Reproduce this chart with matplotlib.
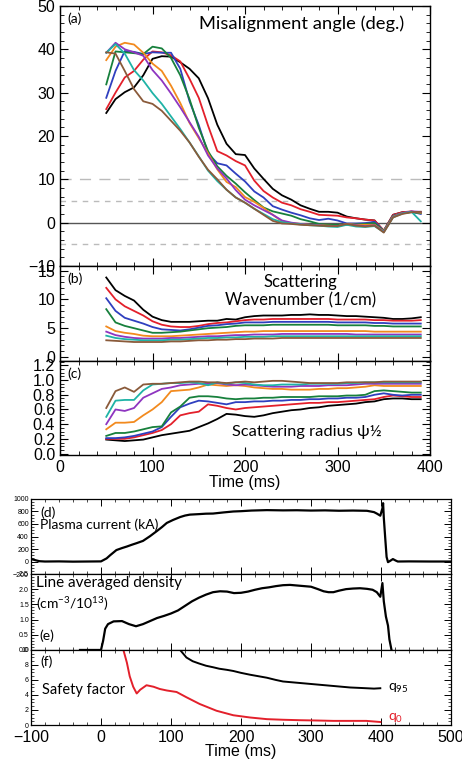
import numpy as np
import matplotlib
matplotlib.use('Agg')
import matplotlib.pyplot as plt
from matplotlib.ticker import MultipleLocator, FormatStrFormatter

plt.rcParams['font.family'] = ['Liberation Sans', 'DejaVu Sans']
plt.rcParams['mathtext.default'] = 'regular'
plt.rcParams['xtick.direction'] = 'in'
plt.rcParams['ytick.direction'] = 'in'
plt.rcParams['xtick.top'] = True
plt.rcParams['ytick.right'] = True

LABEL_FONT = ['Lato', 'DejaVu Sans']

# scattering channels, sampled every 10 ms
t_scat = [50, 60, 70, 80, 90, 100, 110, 120, 130, 140, 150, 160, 170, 180, 190,
          200, 210, 220, 230, 240, 250, 260, 270, 280, 290, 300, 310, 320, 330,
          340, 350, 360, 370, 380, 390]
channel_colors = ['black', '#e3202b', '#2f3fbf', '#17803c',
                  '#f28a1e', '#8e35c0', '#1fb3a6', '#8a5a3a']

# misalignment angle (deg.)
mis_black = [25.3, 28.5, 30.1, 31.2, 34.0, 37.8, 38.4, 38.3, 37.0, 35.5, 33.3, 28.7,
             22.6, 18.2, 15.8, 15.6, 12.5, 10.1, 7.8, 6.3, 5.3, 4.0, 3.2, 2.5, 2.5,
             2.3, 1.4, 1.0, 0.7, 0.5, -2.0, 1.8, 2.4, 2.5, 2.4]
mis_red = [26.2, 30.0, 33.5, 35.0, 37.6, 39.5, 39.3, 38.6, 37.2, 33.2, 28.8, 22.4,
           16.5, 15.5, 14.2, 13.2, 9.7, 7.3, 5.8, 4.6, 4.0, 3.1, 2.5, 1.8, 1.7,
           1.6, 1.2, 1.0, 0.7, 0.5, -1.8, 1.8, 2.4, 2.6, 2.2]
mis_blue = [28.8, 35.0, 39.6, 39.4, 38.9, 39.3, 39.2, 39.2, 35.5, 28.0, 22.5, 16.0,
            13.7, 13.2, 11.3, 9.5, 7.2, 5.8, 3.8, 3.0, 2.3, 1.7, 1.0, 0.6, 0.9,
            0.5, -0.2, -0.2, -0.1, 0.2, -1.9, 1.6, 2.2, 2.5, 2.0]
mis_green = [31.9, 39.5, 39.3, 39.1, 38.9, 40.6, 40.2, 38.0, 34.0, 28.5, 21.9, 16.5,
             13.0, 10.8, 9.0, 7.0, 5.2, 3.5, 2.6, 2.1, 1.6, 0.8, 0.3, -0.3, -0.5,
             -0.5, -0.5, -0.4, -0.3, -0.1, -1.9, 1.5, 2.2, 2.4, 2.2]
mis_orange = [37.5, 40.6, 41.5, 41.1, 39.2, 36.7, 35.0, 31.6, 27.6, 23.0, 19.5, 16.0,
              12.3, 9.4, 8.2, 5.9, 4.8, 3.4, 1.8, 0.3, -0.1, -0.3, -0.5, -0.6, -0.7,
              -0.8, -0.3, -0.5, -0.5, -0.5, -2.0, 1.4, 2.2, 2.5, 2.3]
mis_purple = [39.2, 41.5, 40.0, 39.3, 38.5, 35.2, 32.8, 29.8, 26.6, 23.2, 19.8, 15.5,
              12.5, 10.2, 7.5, 5.3, 4.0, 2.9, 1.8, 0.5, 0.0, -0.3, -0.5, -0.6, -0.8,
              -0.8, -0.4, -0.6, -0.8, -0.6, -2.1, 1.3, 2.2, 2.6, 2.5]
mis_teal = [39.2, 41.2, 39.0, 35.2, 32.8, 29.9, 27.4, 24.5, 21.6, 18.5, 15.3, 12.0,
            9.6, 7.6, 5.8, 4.6, 3.2, 2.0, 0.8, 0.1, -0.2, -0.4, -0.6, -0.7, -0.9,
            -1.0, -0.5, -0.9, -1.0, -0.8, -2.2, 1.2, 2.1, 2.5, 0.3]
mis_brown = [39.3, 39.0, 35.0, 30.8, 28.0, 27.4, 25.8, 23.5, 21.2, 18.5, 15.2, 12.2,
             10.0, 7.6, 5.8, 4.6, 3.2, 1.8, 0.4, -0.2, -0.3, -0.5, -0.6, -0.7, -0.8,
             -0.8, -0.3, -0.7, -0.9, -0.7, -2.3, 1.2, 2.0, 2.4, 2.5]

# scattering wavenumber (1/cm)
k_black = [13.8, 11.6, 10.6, 9.8, 8.2, 7.0, 6.4, 6.1, 6.1, 6.1, 6.2, 6.3, 6.3, 6.6,
           6.5, 6.9, 7.1, 7.2, 7.2, 7.2, 7.3, 7.3, 7.4, 7.3, 7.3, 7.2, 7.1, 7.1,
           7.0, 6.9, 6.8, 6.6, 6.6, 6.7, 6.9]
k_red = [12.0, 10.0, 8.8, 8.0, 7.2, 6.2, 5.6, 5.3, 5.2, 5.2, 5.4, 5.7, 5.9, 6.0,
         6.2, 6.4, 6.5, 6.5, 6.6, 6.6, 6.6, 6.6, 6.6, 6.6, 6.6, 6.5, 6.5, 6.5,
         6.5, 6.4, 6.4, 6.3, 6.3, 6.3, 6.4]
k_blue = [10.2, 8.0, 6.8, 6.3, 5.8, 5.2, 4.8, 4.7, 4.6, 4.8, 5.1, 5.4, 5.5, 5.7,
          5.8, 6.0, 6.0, 6.0, 6.1, 6.1, 6.1, 6.1, 6.1, 6.1, 6.1, 6.0, 6.0, 6.0,
          6.0, 5.9, 5.9, 5.8, 5.8, 5.8, 5.8]
k_green = [8.3, 6.0, 5.4, 5.0, 4.6, 4.2, 4.2, 4.3, 4.4, 4.6, 4.8, 5.0, 5.1, 5.2,
           5.4, 5.5, 5.5, 5.5, 5.6, 5.6, 5.6, 5.6, 5.6, 5.6, 5.6, 5.5, 5.5, 5.5,
           5.5, 5.4, 5.4, 5.3, 5.3, 5.3, 5.3]
k_orange = [5.3, 4.5, 4.2, 4.0, 3.7, 3.6, 3.6, 3.6, 3.7, 3.8, 3.9, 4.0, 4.1, 4.2,
            4.3, 4.4, 4.4, 4.5, 4.5, 4.5, 4.5, 4.5, 4.5, 4.5, 4.5, 4.5, 4.5, 4.5,
            4.5, 4.4, 4.4, 4.4, 4.4, 4.4, 4.4]
k_purple = [4.4, 3.8, 3.5, 3.3, 3.2, 3.2, 3.2, 3.3, 3.3, 3.4, 3.5, 3.6, 3.6, 3.7,
            3.8, 3.8, 3.9, 3.9, 3.9, 4.0, 4.0, 4.0, 4.0, 4.0, 4.0, 4.0, 4.0, 3.9,
            3.9, 3.9, 3.9, 3.9, 3.9, 3.9, 3.9]
k_teal = [3.7, 3.3, 3.1, 3.0, 2.9, 2.9, 2.9, 3.0, 3.0, 3.1, 3.2, 3.3, 3.3, 3.4,
          3.4, 3.5, 3.5, 3.5, 3.6, 3.6, 3.6, 3.6, 3.6, 3.6, 3.6, 3.6, 3.6, 3.6,
          3.6, 3.6, 3.6, 3.6, 3.6, 3.6, 3.6]
k_brown = [2.9, 2.8, 2.7, 2.6, 2.6, 2.6, 2.6, 2.7, 2.7, 2.8, 2.9, 2.9, 3.0, 3.0,
           3.1, 3.1, 3.2, 3.2, 3.2, 3.3, 3.3, 3.3, 3.3, 3.3, 3.3, 3.3, 3.3, 3.3,
           3.3, 3.3, 3.3, 3.3, 3.3, 3.3, 3.3]

# scattering radius psi^1/2
r_black = [0.19, 0.18, 0.17, 0.18, 0.19, 0.22, 0.25, 0.27, 0.29, 0.31, 0.36, 0.41,
           0.47, 0.54, 0.53, 0.51, 0.50, 0.52, 0.55, 0.57, 0.59, 0.60, 0.62, 0.63,
           0.65, 0.66, 0.67, 0.68, 0.70, 0.71, 0.74, 0.75, 0.75, 0.74, 0.74]
r_red = [0.20, 0.20, 0.20, 0.22, 0.25, 0.28, 0.32, 0.40, 0.52, 0.55, 0.57, 0.67,
         0.65, 0.62, 0.60, 0.62, 0.63, 0.64, 0.65, 0.66, 0.67, 0.68, 0.69, 0.69,
         0.70, 0.70, 0.71, 0.72, 0.73, 0.74, 0.77, 0.79, 0.78, 0.77, 0.77]
r_blue = [0.21, 0.21, 0.22, 0.24, 0.27, 0.30, 0.36, 0.50, 0.63, 0.68, 0.72, 0.71,
          0.69, 0.67, 0.70, 0.70, 0.71, 0.71, 0.72, 0.72, 0.73, 0.73, 0.74, 0.74,
          0.75, 0.75, 0.76, 0.76, 0.77, 0.80, 0.82, 0.80, 0.79, 0.80, 0.80]
r_green = [0.24, 0.28, 0.28, 0.30, 0.33, 0.36, 0.37, 0.56, 0.64, 0.76, 0.78, 0.78,
           0.77, 0.75, 0.74, 0.75, 0.75, 0.76, 0.76, 0.77, 0.77, 0.77, 0.77, 0.78,
           0.78, 0.78, 0.79, 0.79, 0.80, 0.85, 0.86, 0.85, 0.84, 0.83, 0.83]
r_orange = [0.33, 0.42, 0.42, 0.43, 0.52, 0.60, 0.70, 0.85, 0.86, 0.87, 0.90, 0.94,
            0.93, 0.92, 0.93, 0.92, 0.90, 0.89, 0.88, 0.88, 0.87, 0.87, 0.87, 0.88,
            0.88, 0.89, 0.89, 0.90, 0.91, 0.93, 0.92, 0.92, 0.92, 0.92, 0.92]
r_purple = [0.40, 0.60, 0.58, 0.62, 0.76, 0.82, 0.88, 0.90, 0.93, 0.94, 0.95, 0.95,
            0.96, 0.94, 0.93, 0.94, 0.93, 0.92, 0.91, 0.91, 0.91, 0.92, 0.92, 0.92,
            0.93, 0.93, 0.93, 0.94, 0.95, 0.95, 0.95, 0.95, 0.95, 0.95, 0.95]
r_teal = [0.50, 0.72, 0.73, 0.73, 0.86, 0.94, 0.95, 0.96, 0.96, 0.97, 0.96, 0.93,
          0.97, 0.95, 0.97, 0.96, 0.94, 0.93, 0.93, 0.94, 0.94, 0.94, 0.95, 0.95,
          0.95, 0.95, 0.96, 0.96, 0.97, 0.97, 0.97, 0.97, 0.97, 0.97, 0.97]
r_brown = [0.62, 0.85, 0.90, 0.84, 0.94, 0.95, 0.95, 0.96, 0.97, 0.98, 0.98, 0.97,
           0.97, 0.96, 0.97, 0.98, 0.97, 0.98, 0.99, 0.99, 0.98, 0.97, 0.96, 0.96,
           0.96, 0.96, 0.97, 0.97, 0.97, 0.97, 0.98, 0.98, 0.98, 0.98, 0.98]

misalign = [mis_black, mis_red, mis_blue, mis_green, mis_orange, mis_purple, mis_teal, mis_brown]
wavenum = [k_black, k_red, k_blue, k_green, k_orange, k_purple, k_teal, k_brown]
radius = [r_black, r_red, r_blue, r_green, r_orange, r_purple, r_teal, r_brown]

# plasma current (kA)
t_ip = [-100, -95, -88, -80, -60, -40, -20, 0, 8, 13, 22, 30, 37, 44, 51, 60, 70,
        80, 87, 94, 103, 113, 120, 127, 140, 150, 160, 175, 189, 200, 215, 237,
        260, 280, 300, 320, 340, 360, 380, 390, 394, 399, 402, 403, 404, 406,
        408, 410, 413, 417, 421, 424, 440, 470, 500]
ip = [40, 25, 5, 0, 2, -2, 0, 2, 50, 100, 183, 215, 240, 268, 294, 330, 405, 489,
      550, 617, 665, 711, 735, 750, 758, 765, 767, 785, 800, 805, 815, 822, 818,
      820, 815, 818, 812, 815, 811, 790, 767, 733, 850, 933, 700, 380, 72, -10,
      10, 39, 15, 0, 2, 0, 0]

# line averaged density (1e13 cm^-3)
t_ne = [-30, 0, 3, 6, 10, 18, 30, 40, 50, 60, 70, 80, 90, 100, 110, 120, 130, 140,
        150, 160, 170, 180, 190, 200, 210, 220, 230, 240, 250, 260, 270, 280, 290,
        300, 310, 318, 325, 332, 340, 350, 360, 370, 380, 388, 394, 399, 402, 404,
        407, 410, 412, 415]
ne = [0.0, 0.0, 0.3, 0.7, 0.85, 0.94, 0.95, 0.85, 0.78, 0.85, 0.95, 1.05, 1.12, 1.2,
      1.3, 1.45, 1.6, 1.72, 1.82, 1.9, 1.93, 1.92, 1.87, 1.88, 1.92, 1.98, 2.03,
      2.06, 2.1, 2.13, 2.14, 2.12, 2.1, 2.08, 2.0, 1.93, 1.9, 1.9, 1.95, 2.0, 2.02,
      2.03, 2.01, 1.98, 1.9, 1.75, 2.2, 1.6, 1.1, 0.8, 0.35, 0.0]

# safety factor
t_q95 = [113, 122, 131, 140, 150, 160, 169, 180, 189, 200, 213, 225, 237, 250, 260,
         272, 284, 296, 308, 320, 332, 344, 356, 368, 379, 390, 399]
q95 = [10.0, 9.0, 8.5, 8.2, 7.9, 7.7, 7.5, 7.35, 7.2, 6.95, 6.7, 6.5, 6.3, 6.0, 5.8,
       5.7, 5.6, 5.5, 5.4, 5.3, 5.2, 5.1, 5.0, 4.95, 4.9, 4.85, 4.9]
t_q0 = [32, 37, 41, 46, 51, 56, 65, 75, 84, 94, 108, 122, 141, 165, 189, 213, 237,
        260, 284, 308, 332, 356, 379, 399]
q0 = [10.0, 8.3, 6.5, 5.1, 4.2, 4.7, 5.3, 5.1, 4.8, 4.6, 4.4, 3.7, 2.8, 1.9, 1.3,
      1.0, 0.78, 0.7, 0.64, 0.6, 0.55, 0.55, 0.55, 0.4]

fig = plt.figure(figsize=(4.62, 7.61), dpi=100)

ax_a = fig.add_axes([0.1299, 0.6505, 0.8009, 0.3417])
ax_b = fig.add_axes([0.1299, 0.5256, 0.8009, 0.1249])
ax_c = fig.add_axes([0.1299, 0.4021, 0.8009, 0.1235])
ax_d = fig.add_axes([0.0671, 0.2457, 0.9091, 0.0986])
ax_e = fig.add_axes([0.0671, 0.1459, 0.9091, 0.0999])
ax_f = fig.add_axes([0.0671, 0.0473, 0.9091, 0.0986])

for ax, series in [(ax_a, misalign), (ax_b, wavenum), (ax_c, radius)]:
    for vals, col in zip(series, channel_colors):
        ax.plot(t_scat, vals, color=col, lw=1.3)
    ax.set_xlim(0, 400)
    ax.xaxis.set_major_locator(MultipleLocator(100))
    ax.xaxis.set_minor_locator(MultipleLocator(20))
    ax.tick_params(which='major', length=6, width=0.8, labelsize=11.5)
    ax.tick_params(which='minor', length=3, width=0.6)
    for sp in ax.spines.values():
        sp.set_linewidth(1.0)

# reference levels for the misalignment angle
ax_a.axhline(0, color='#555555', lw=1.0, zorder=0)
ax_a.axhline(10, color='#bbbbbb', lw=1.0, dashes=(8, 6), zorder=0)
ax_a.axhline(5, color='#bbbbbb', lw=1.0, dashes=(4, 4), zorder=0)
ax_a.axhline(-5, color='#bbbbbb', lw=1.0, dashes=(4, 4), zorder=0)

ax_a.set_ylim(-10, 50)
ax_a.yaxis.set_major_locator(MultipleLocator(10))
ax_a.yaxis.set_minor_locator(MultipleLocator(2))
ax_b.set_ylim(-0.7, 15.8)
ax_b.yaxis.set_major_locator(MultipleLocator(5))
ax_b.yaxis.set_minor_locator(MultipleLocator(1))
ax_c.set_ylim(-0.02, 1.26)
ax_c.yaxis.set_major_locator(MultipleLocator(0.2))
ax_c.yaxis.set_minor_locator(MultipleLocator(0.05))
ax_c.yaxis.set_major_formatter(FormatStrFormatter('%.1f'))
ax_a.tick_params(labelbottom=False)
ax_b.tick_params(labelbottom=False)
ax_c.set_xlabel('Time (ms)', fontsize=11.5, labelpad=0)

ax_a.text(0.02, 0.975, '(a)', transform=ax_a.transAxes, ha='left', va='top',
          fontsize=10, family=LABEL_FONT)
ax_a.text(0.93, 0.962, 'Misalignment angle (deg.)', transform=ax_a.transAxes,
          ha='right', va='top', fontsize=13.2, family=LABEL_FONT)
ax_b.text(0.02, 0.93, '(b)', transform=ax_b.transAxes, ha='left', va='top',
          fontsize=10, family=LABEL_FONT)
ax_b.text(0.65, 0.92, 'Scattering\nWavenumber (1/cm)', transform=ax_b.transAxes,
          ha='center', va='top', fontsize=12, family=LABEL_FONT, linespacing=1.2)
ax_c.text(0.02, 0.93, '(c)', transform=ax_c.transAxes, ha='left', va='top',
          fontsize=10, family=LABEL_FONT)
ax_c.text(0.465, 0.24, 'Scattering radius ψ½', transform=ax_c.transAxes,
          ha='left', va='center', fontsize=11.8, family=LABEL_FONT)

# discharge waveforms
ax_d.plot(t_ip, ip, color='black', lw=1.6)
ax_e.plot(t_ne, ne, color='black', lw=1.6)
ax_f.plot(t_q95, q95, color='black', lw=1.4)
ax_f.plot(t_q0, q0, color='#e3202b', lw=1.4)

for ax in [ax_d, ax_e, ax_f]:
    ax.set_xlim(-100, 500)
    ax.xaxis.set_major_locator(MultipleLocator(100))
    ax.xaxis.set_minor_locator(MultipleLocator(20))
    ax.tick_params(which='major', length=5, width=0.7, labelsize=11.5)
    ax.tick_params(axis='y', which='major', labelsize=5, pad=1.5)
    ax.tick_params(which='minor', length=2.5, width=0.5)
    for sp in ax.spines.values():
        sp.set_linewidth(0.9)

ax_d.set_ylim(-200, 1000)
ax_d.yaxis.set_major_locator(MultipleLocator(200))
ax_d.yaxis.set_minor_locator(MultipleLocator(50))
ax_e.set_ylim(0, 2.5)
ax_e.yaxis.set_major_locator(MultipleLocator(0.5))
ax_e.yaxis.set_minor_locator(MultipleLocator(0.1))
ax_e.yaxis.set_major_formatter(FormatStrFormatter('%.1f'))
ax_f.set_ylim(0, 10)
ax_f.yaxis.set_major_locator(MultipleLocator(2))
ax_f.yaxis.set_minor_locator(MultipleLocator(0.5))
ax_d.tick_params(labelbottom=False)
ax_e.tick_params(labelbottom=False)
ax_f.set_xlabel('Time (ms)', fontsize=11.5, labelpad=-0.5)

ax_d.text(0.022, 0.90, '(d)', transform=ax_d.transAxes, ha='left', va='top',
          fontsize=10, family=LABEL_FONT)
ax_d.text(0.022, 0.66, 'Plasma current (kA)', transform=ax_d.transAxes,
          ha='left', va='center', fontsize=10, family=LABEL_FONT)
ax_e.text(0.012, 0.88, 'Line averaged density', transform=ax_e.transAxes,
          ha='left', va='center', fontsize=11, family=LABEL_FONT)
ax_e.text(0.012, 0.60, '(cm$^{-3}$/10$^{13}$)', transform=ax_e.transAxes,
          ha='left', va='center', fontsize=10, family=LABEL_FONT)
ax_e.text(0.02, 0.19, '(e)', transform=ax_e.transAxes, ha='left', va='center',
          fontsize=10, family=LABEL_FONT)
ax_f.text(0.022, 0.84, '(f)', transform=ax_f.transAxes, ha='left', va='center',
          fontsize=10, family=LABEL_FONT)
ax_f.text(0.025, 0.47, 'Safety factor', transform=ax_f.transAxes, ha='left',
          va='center', fontsize=10.5, family=LABEL_FONT)
ax_f.text(410, 4.9, 'q$_{95}$', ha='left', va='center', fontsize=10,
          family=LABEL_FONT)
ax_f.text(410, 0.9, 'q$_{0}$', ha='left', va='center', fontsize=10,
          color='#e3202b', family=LABEL_FONT)

fig.savefig('out.png', dpi=100)
